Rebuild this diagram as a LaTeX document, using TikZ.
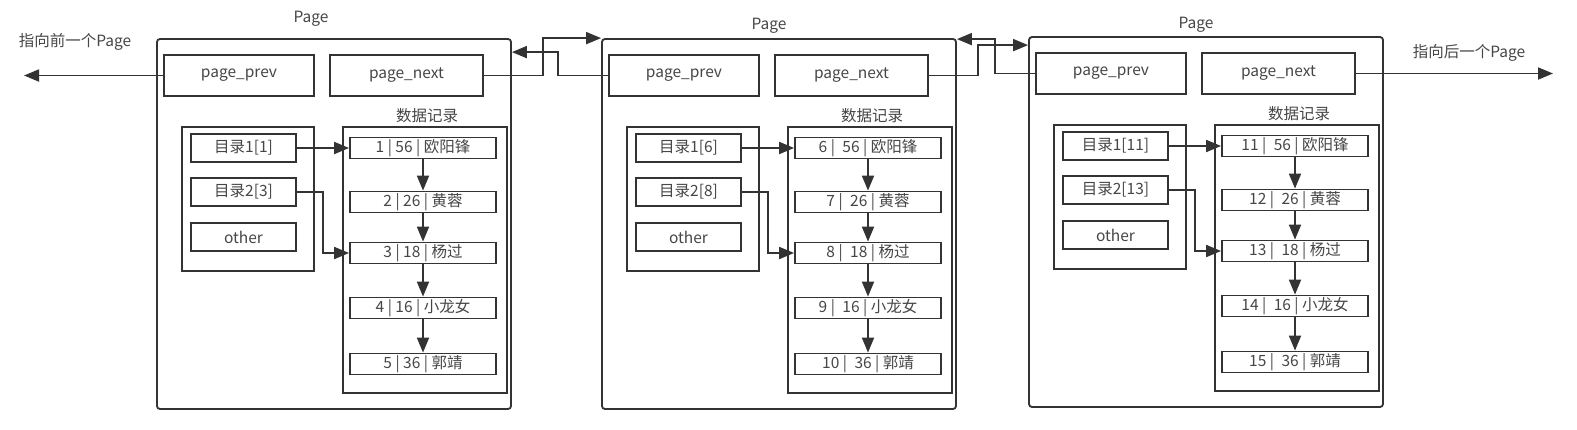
\documentclass[tikz,border=0pt]{standalone}
\usepackage{fontspec}
\setmainfont{Noto Sans CJK SC}
\usetikzlibrary{arrows.meta}
\definecolor{ink}{RGB}{51,51,51}
\definecolor{txtc}{RGB}{70,70,70}
\tikzset{
  txt/.style={font=\fontsize{15.5}{18}\selectfont,text=txtc},
  pagebox/.style={draw=ink,fill=white,line width=1.8pt,rounded corners=3pt,inner sep=0pt,minimum width=354pt,minimum height=370pt},
  field/.style={txt,draw=ink,line width=1.8pt,inner sep=1pt,minimum height=41pt},
  cont/.style={draw=ink,line width=1.8pt,inner sep=0pt},
  dirbox/.style={txt,draw=ink,line width=1.8pt,inner sep=1pt,minimum width=105pt,minimum height=28pt},
  recbox/.style={txt,draw=ink,line width=1.8pt,inner sep=1pt,minimum width=146pt,minimum height=21pt},
  arr/.style={draw=ink,line width=1.8pt,-{Triangle[length=15pt,width=12pt]}}
}
\begin{document}
\begin{tikzpicture}[x=1pt,y=-1pt]
\useasboundingbox (0,0) rectangle (1577,429);
% three pages, same layout
\foreach \p/\ox/\oy/\lx/\ly/\n/\g in {1/157/39/311/19/1/0, 2/602/39/769/26/6/4, 3/1029/37/1196/25/11/4}{
  \pgfmathtruncatemacro{\nn}{\n+2}
  \node[pagebox] (page\p) at (\ox+177,\oy+185) {};
  \node[txt] (title\p) at (\lx,\ly) {Page};
  \node[field,minimum width=150pt] (prev\p) at (\ox+82,\oy+36.5) {page\_prev};
  \node[field,minimum width=153pt] (next\p) at (\ox+249.5,\oy+36.5) {page\_next};
  \node[txt] (dtitle\p) at (\ox+270,\oy+77) {数据记录};
  \node[cont,minimum width=132pt,minimum height=144pt] (dir\p) at (\ox+91,\oy+160) {};
  \node[cont,minimum width=164pt,minimum height=266pt] (data\p) at (\ox+268,\oy+221) {};
  \node[dirbox] (ia\p) at (\ox+86.5,\oy+109) {目录1[\n]};
  \node[dirbox] (ib\p) at (\ox+86.5,\oy+153) {目录2[\nn]};
  \node[dirbox] (other\p) at (\ox+86.5,\oy+198) {other};
  \foreach \age/\name/\ry [count=\j from 0] in {56/欧阳锋/109, 26/黄蓉/163, 18/杨过/214, 16/小龙女/269, 36/郭靖/325}{
    \pgfmathtruncatemacro{\m}{\n+\j}
    \node[recbox] (rec\p-\j) at (\ox+266,\oy+\ry) {\m\ |\hspace{\g pt}\ \age\ |\ \name};
  }
  \foreach \j [evaluate=\j as \jj using int(\j+1)] in {0,...,3}
    \draw[arr] (rec\p-\j) -- (rec\p-\jj);
  \draw[arr] (ia\p.east) -- (rec\p-0.west);
  \draw[arr] (ib\p.east) -- (\ox+166,\oy+153) |- (rec\p-2.west);
}
% links between pages
\coordinate (leftend) at (24,75.5);
\coordinate (rightend) at (1553,73.5);
\node[txt] (lefttxt) at (75,42) {指向前一个Page};
\node[txt] (righttxt) at (1469,53) {指向后一个Page};
\draw[arr] (prev1.west) -- (leftend);
\draw[arr] (next3.east) -- (rightend);
\draw[arr] (next1.east) -- ++(59,0) |- (page2.north west);
\draw[arr] (prev2.west) -- ++(-50,0) |- ([yshift=-14pt]page1.north east);
\draw[arr] (next2.east) -- ++(49,0) |- ([yshift=-9pt]page3.north west);
\draw[arr] (prev3.west) -- ++(-40,0) |- ([yshift=-1pt]page2.north east);
\end{tikzpicture}
\end{document}
